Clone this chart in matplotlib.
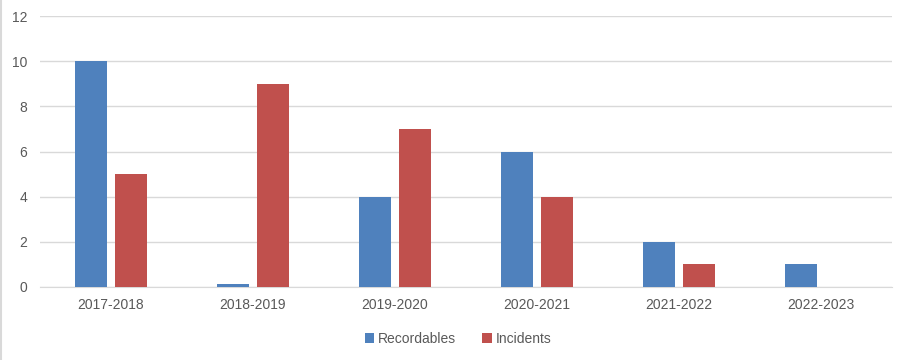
import matplotlib

matplotlib.use("Agg")
import matplotlib.pyplot as plt
import numpy as np
from matplotlib.lines import Line2D

years = ["2017-2018", "2018-2019", "2019-2020", "2020-2021", "2021-2022", "2022-2023"]
recordables = [10, 0.15, 4, 6, 2, 1]
incidents = [5, 9, 7, 4, 1, 0]

BLUE = "#4F81BD"
RED = "#C0504D"
TEXT = "#595959"
GRID = "#D9D9D9"

plt.rcParams["font.family"] = ["Liberation Sans", "DejaVu Sans"]

fig = plt.figure(figsize=(9.03, 3.6), dpi=100)
ax = fig.add_axes([40 / 903, 1 - 287 / 360, 852 / 903, 271 / 360])

x = np.arange(len(years))
width = 0.225
offset = 0.141
ax.bar(x - offset, recordables, width=width, color=BLUE, label="Recordables", zorder=3)
ax.bar(x + offset, incidents, width=width, color=RED, label="Incidents", zorder=3)

ax.set_xlim(-0.5, len(years) - 0.5)
ax.set_ylim(0, 12)
ax.set_yticks(range(0, 13, 2))
ax.set_xticks(x, years)
ax.tick_params(axis="both", length=0, labelsize=10, colors=TEXT)
ax.tick_params(axis="y", pad=9)
ax.tick_params(axis="x", pad=8)
ax.grid(axis="y", color=GRID, linewidth=1, zorder=0)
for side in ["top", "right", "left"]:
    ax.spines[side].set_visible(False)
ax.spines["bottom"].set_color(GRID)

fig.legend(
    loc="center",
    bbox_to_anchor=(458 / 903, 1 - 339 / 360),
    ncols=2,
    frameon=False,
    fontsize=10,
    handlelength=0.7,
    handleheight=0.7,
    handletextpad=0.25,
    columnspacing=1.9,
    labelcolor=TEXT,
)

fig.add_artist(Line2D([0.001, 0.001], [0, 1], color=GRID, linewidth=1.5, transform=fig.transFigure))

fig.savefig("out.png", dpi=100)
